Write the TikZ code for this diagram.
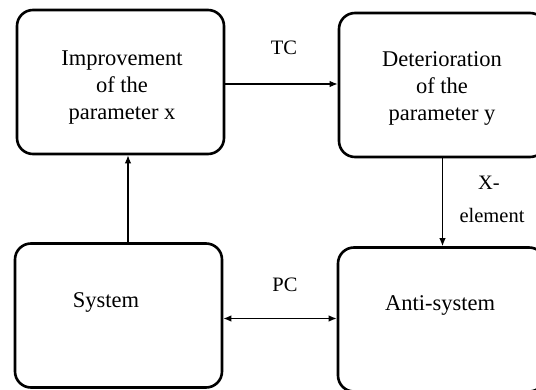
\documentclass[tikz,border=0pt]{standalone}
\usepackage{fontspec}
\setmainfont{Liberation Serif}
\usetikzlibrary{arrows.meta}
\begin{document}
\begin{tikzpicture}[x=1pt,y=-1pt,
  box/.style={draw, line width=2.6pt, rounded corners=16pt,
    minimum width=207pt, minimum height=144pt, inner sep=0pt},
  txt/.style={font=\fontsize{22.5}{27}\selectfont, align=center, inner sep=0pt},
  lbl/.style={font=\fontsize{20.5}{22}\selectfont, inner sep=0pt},
  arr/.style={line width=1.3pt, -{Latex[length=8pt,width=6.5pt]}},
  darr/.style={line width=1.3pt, {Latex[length=8pt,width=6.5pt]}-{Latex[length=8pt,width=6.5pt]}}]
\useasboundingbox (0,0) rectangle (536,390);
\clip (0,0) rectangle (536,390);

% boxes
\node[box] (imp)  at (120.5,82)  {};
\node[box] (det)  at (442.5,85)  {};
\node[box] (sys)  at (118.5,315.5) {};
\node[box] (anti) at (441.5,319.5) {};

% box texts
\node[txt] (impt)  at (122,88)  {Improvement\\of the\\parameter x};
\node[txt] (dett)  at (442,88)  {Deterioration\\of the\\parameter y};
\node[txt] (syst)  at (106,302) {System};
\node[txt] (antit) at (440,305) {Anti-system};

% connectors
\draw[arr] ([xshift=9.5pt]sys.north) -- ([xshift=7.5pt]imp.south);
\draw[arr] ([yshift=-2pt]imp.east) -- ([yshift=-2pt]imp.east -| det.west);
\draw[arr] (det.south) -- (det.south |- anti.north);
\draw[darr] ([yshift=-3pt]sys.east) -- ([yshift=-3pt]sys.east -| anti.west);

% connector labels
\node[lbl] (tc) at (284,48) {TC};
\node[lbl] (xa) at (489,183) {X-};
\node[lbl] (xb) at (492,215) {element};
\node[lbl] (pc) at (285,285) {PC};
\end{tikzpicture}
\end{document}
